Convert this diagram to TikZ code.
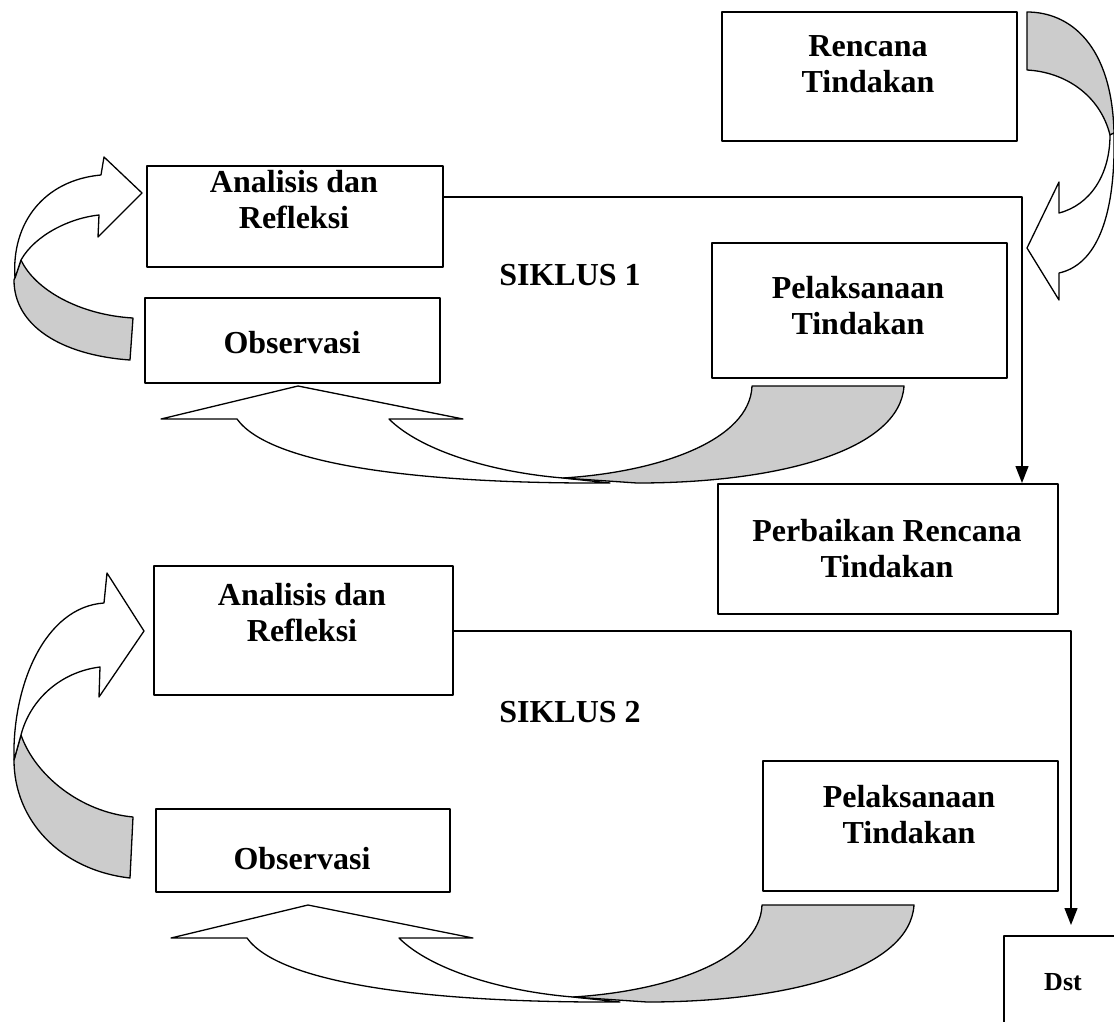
\documentclass[tikz,border=0pt]{standalone}
\usepackage{fontspec}
\setmainfont{Liberation Serif}
\usetikzlibrary{arrows.meta}
\definecolor{shade}{RGB}{204,204,204}
\begin{document}
\begin{tikzpicture}[x=1pt,y=-1pt,line join=round,
  box/.style={draw,line width=1.6pt,inner sep=0pt,anchor=north west},
  txt/.style={font=\fontsize{32}{36}\selectfont\bfseries,align=center,inner sep=0pt},
  curl/.style={draw,line width=1.3pt,line join=round},
  conn/.style={line width=1.3pt},
  tipd/.style={-{Triangle[length=17pt,width=13pt]}}]
\useasboundingbox (0,0) rectangle (1114,1021);
\begin{scope}
\clip (0,0) rectangle (1114,1021);
% boxes
\node[box,minimum width=295pt,minimum height=129pt] (rencana) at (721,11) {};
\node[box,minimum width=296pt,minimum height=101pt] (analisis1) at (146,165) {};
\node[box,minimum width=295pt,minimum height=85pt] (observasi1) at (144,297) {};
\node[box,minimum width=295pt,minimum height=135pt] (pelaksanaan1) at (711,242) {};
\node[box,minimum width=340pt,minimum height=130pt] (perbaikan) at (717,483) {};
\node[box,minimum width=299pt,minimum height=129pt] (analisis2) at (153,565) {};
\node[box,minimum width=294pt,minimum height=83pt] (observasi2) at (155,808) {};
\node[box,minimum width=295pt,minimum height=130pt] (pelaksanaan2) at (762,760) {};
\node[box,minimum width=122pt,minimum height=95pt] (dst) at (1003,935) {};
% texts
\node[txt,anchor=north] (rencanaT) at (868,35) {Rencana\\Tindakan};
\node[txt,anchor=north] (analisis1T) at (294,170) {Analisis dan\\Refleksi};
\node[txt,anchor=base] (observasi1T) at (292,353) {Observasi};
\node[txt,anchor=north] (pelaksanaan1T) at (858,276) {Pelaksanaan\\Tindakan};
\node[txt,anchor=base] (siklus1) at (570,285) {SIKLUS 1};
\node[txt,anchor=north] (perbaikanT) at (887,519) {Perbaikan Rencana\\Tindakan};
\node[txt,anchor=north] (analisis2T) at (302,583) {Analisis dan\\Refleksi};
\node[txt,anchor=base] (observasi2T) at (302,869) {Observasi};
\node[txt,anchor=north] (pelaksanaan2T) at (909,785) {Pelaksanaan\\Tindakan};
\node[txt,anchor=base] (siklus2) at (570,722) {SIKLUS 2};
\node[font=\fontsize{26}{30}\selectfont\bfseries,inner sep=0pt,anchor=base] (dstT) at (1063,990) {Dst};
% connectors
\coordinate (c1) at (1022,197);
\draw[conn,tipd] ([yshift=-32pt]analisis1.north east) -- (c1) -- (c1 |- perbaikan.north);
\coordinate (c2) at (1071,631);
\draw[conn,tipd,shorten >=10pt] ([yshift=-66pt]analisis2.north east) -- (c2) -- (c2 |- dst.north);
% top right curved arrow
\draw[curl,fill=shade] (1027,12) .. controls (1070,12) and (1112,45) .. (1114,133) -- (1110,135) .. controls (1100,95) and (1065,72) .. (1027,70) -- cycle;
\draw[curl,fill=white] (1110,135) .. controls (1110,175) and (1090,205) .. (1059,213) -- (1059,182) -- (1027,248) -- (1059,300) -- (1059,273) .. controls (1095,265) and (1116,220) .. (1114,133) -- cycle;
% left arrow 1
\draw[curl,fill=shade] (21,260) .. controls (35,290) and (80,315) .. (133,318) -- (130,360) .. controls (60,355) and (14,325) .. (14,280) -- cycle;
\draw[curl,fill=white] (15,278) .. controls (11,222) and (45,180) .. (101,175) -- (104,157) -- (142,193) -- (98,237) -- (99,215) .. controls (70,218) and (35,235) .. (21,260) -- cycle;
% left arrow 2
\draw[curl,fill=shade] (21,735) .. controls (35,775) and (80,812) .. (133,817) -- (130,878) .. controls (60,870) and (14,820) .. (14,760) -- cycle;
\draw[curl,fill=white] (14,760) .. controls (12,685) and (45,607) .. (104,603) -- (107,573) -- (144,631) -- (99,697) -- (100,667) .. controls (60,672) and (30,700) .. (21,735) -- cycle;
% bottom arrows
\foreach \dx/\dy in {0/0,10/519}{
\begin{scope}[shift={(\dx,\dy)}]
\draw[curl,fill=white] (237,419) -- (161,419) -- (298,386) -- (463,419) -- (389,419) .. controls (420,450) and (490,472) .. (563,478) -- (610,483) .. controls (420,484) and (270,465) .. (237,419) -- cycle;
\draw[curl,fill=shade] (752,386) -- (904,386) .. controls (900,450) and (780,483) .. (637,483) -- (563,478) .. controls (660,472) and (750,440) .. (752,386) -- cycle;
\end{scope}}
\end{scope}
\end{tikzpicture}
\end{document}
